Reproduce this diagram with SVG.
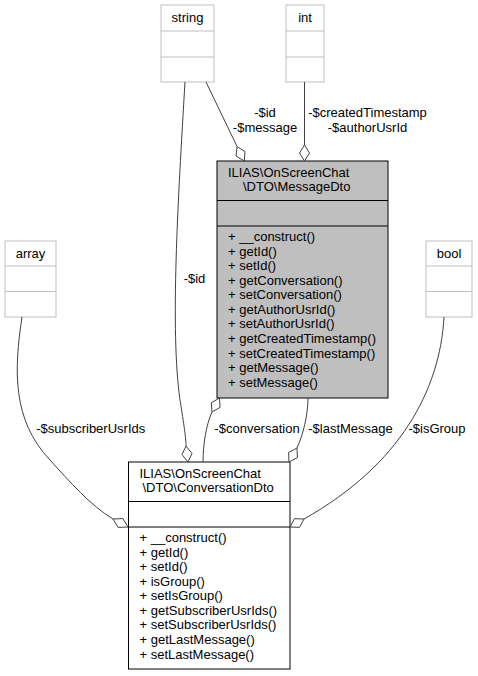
<svg xmlns="http://www.w3.org/2000/svg" width="478" height="676" viewBox="0 0 478 676">
<style>
text { font-family: "Liberation Sans", Arial, sans-serif; font-size: 13px; fill: #000; }
.c { text-anchor: middle; }
.small rect, .small line { fill: #fff; stroke: #bfbfbf; stroke-width: 1; }
.small line { fill: none; }
.main rect { stroke: #000; stroke-width: 1; }
.main line { stroke: #000; stroke-width: 1; }
.edge path { fill: none; stroke: #404040; stroke-width: 1; }
.edge polygon { fill: #fff; stroke: #404040; stroke-width: 1; }
</style>
<rect x="0" y="0" width="478" height="676" fill="#fff"/>

<g id="node-string" class="small">
<rect x="161" y="5" width="53" height="77"/>
<line x1="161" y1="31" x2="214" y2="31"/>
<line x1="161" y1="57" x2="214" y2="57"/>
<text class="c" x="187.5" y="21.5">string</text>
</g>

<g id="node-int" class="small">
<rect x="286" y="5" width="38" height="77"/>
<line x1="286" y1="31" x2="324" y2="31"/>
<line x1="286" y1="57" x2="324" y2="57"/>
<text class="c" x="305" y="21.5">int</text>
</g>

<g id="node-array" class="small">
<rect x="5" y="241" width="51" height="76"/>
<line x1="5" y1="266" x2="56" y2="266"/>
<line x1="5" y1="291.5" x2="56" y2="291.5"/>
<text class="c" x="30.5" y="257.5">array</text>
</g>

<g id="node-bool" class="small">
<rect x="426" y="241" width="46" height="76"/>
<line x1="426" y1="266" x2="472" y2="266"/>
<line x1="426" y1="291.5" x2="472" y2="291.5"/>
<text class="c" x="449" y="257.5">bool</text>
</g>

<g id="node-MessageDto" class="main">
<rect x="217" y="161" width="171" height="237" fill="#bfbfbf"/>
<line x1="217" y1="200.5" x2="388" y2="200.5"/>
<line x1="217" y1="226" x2="388" y2="226"/>
<text x="228" y="176.5">ILIAS\OnScreenChat</text>
<text x="243" y="191">\DTO\MessageDto</text>
<text x="228" y="241">+ __construct()</text>
<text x="228" y="255.6">+ getId()</text>
<text x="228" y="270.1">+ setId()</text>
<text x="228" y="284.7">+ getConversation()</text>
<text x="228" y="299.3">+ setConversation()</text>
<text x="228" y="313.9">+ getAuthorUsrId()</text>
<text x="228" y="328.4">+ setAuthorUsrId()</text>
<text x="228" y="343">+ getCreatedTimestamp()</text>
<text x="228" y="357.6">+ setCreatedTimestamp()</text>
<text x="228" y="372.1">+ getMessage()</text>
<text x="228" y="386.7">+ setMessage()</text>
</g>

<g id="node-ConversationDto" class="main">
<rect x="128.5" y="462" width="161.5" height="207" fill="#fff"/>
<line x1="128.5" y1="501.5" x2="290" y2="501.5"/>
<line x1="128.5" y1="527" x2="290" y2="527"/>
<text x="139.5" y="477.5">ILIAS\OnScreenChat</text>
<text x="142.5" y="492">\DTO\ConversationDto</text>
<text x="139.5" y="542">+ __construct()</text>
<text x="139.5" y="556.6">+ getId()</text>
<text x="139.5" y="571.1">+ setId()</text>
<text x="139.5" y="585.7">+ isGroup()</text>
<text x="139.5" y="600.3">+ setIsGroup()</text>
<text x="139.5" y="614.9">+ getSubscriberUsrIds()</text>
<text x="139.5" y="629.4">+ setSubscriberUsrIds()</text>
<text x="139.5" y="644">+ getLastMessage()</text>
<text x="139.5" y="658.6">+ setLastMessage()</text>
</g>

<g id="connectors" class="edge">
<path d="M206,82 L237.1,146.6"/>
<polygon points="244.3,161 236,156 237.1,146.6 245,151.6"/>
<text class="c" x="265" y="117">-$id</text>
<text class="c" x="265" y="131.5">-$message</text>

<path d="M304.5,82 L304.5,145"/>
<polygon points="304.5,161 299.5,153 304.5,145 309.5,153"/>
<text class="c" x="367.5" y="117">-$createdTimestamp</text>
<text class="c" x="367.5" y="131.5">-$authorUsrId</text>

<path d="M185,82 C178,200 170,330 180,400 C184,425 186,438 186,446"/>
<polygon points="188,462 182,454.6 186,446 192,453.4"/>
<text class="c" x="194.5" y="283">-$id</text>

<path d="M22,317 C14,370 12,420 50,460 C70,482 90,505 113,519"/>
<polygon points="128,527 118.2,527.4 113,519 122.9,518.6"/>
<text class="c" x="90.7" y="433">-$subscriberUsrIds</text>

<path d="M444,317 C440,390 400,465 304,519"/>
<polygon points="290,527 299.5,527.3 304,519 294.5,518.7"/>
<text class="c" x="437" y="433">-$isGroup</text>

<path d="M212,412 C206,425 203,445 203,462"/>
<polygon points="219.5,398 220.1,407.4 212,412 211.3,402.7"/>
<text class="c" x="257" y="433">-$conversation</text>

<path d="M297,448 C303,435 308,415 308,398"/>
<polygon points="289,462 288.6,452.5 297,448 297.4,457.5"/>
<text class="c" x="350.5" y="433">-$lastMessage</text>
</g>
</svg>
